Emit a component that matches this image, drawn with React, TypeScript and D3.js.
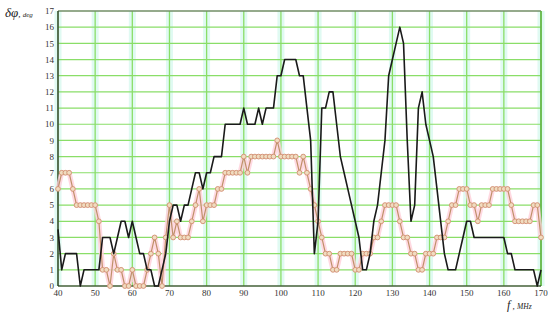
import React from "react";
import * as d3 from "d3";

const freqs: number[] = d3.range(40, 171, 1);

const redValues: number[] = [
  6, 7, 7, 7, 6, 5, 5, 5, 5, 5, // 40-49
  5, 4, 1, 1, 0, 2, 1, 1, 0, 0, // 50-59
  1, 0, 0, 0, 1, 2, 3, 2, 0, 3, // 60-69
  5, 3, 4, 3, 3, 3, 4, 5, 6, 4, // 70-79
  5, 5, 5, 6, 6, 7, 7, 7, 7, 7, // 80-89
  8, 7, 8, 8, 8, 8, 8, 8, 8, 9, // 90-99
  8, 8, 8, 8, 8, 7, 8, 7, 6, 5, // 100-109
  4, 3, 2, 2, 1, 1, 2, 2, 2, 2, // 110-119
  1, 1, 2, 2, 2, 3, 3, 4, 5, 5, // 120-129
  5, 5, 4, 3, 3, 2, 2, 1, 1, 2, // 130-139
  2, 2, 3, 3, 3, 4, 5, 5, 6, 6, // 140-149
  6, 5, 5, 4, 5, 5, 5, 6, 6, 6, // 150-159
  6, 6, 5, 4, 4, 4, 4, 4, 5, 5, // 160-169
  3, // 170
];

const blackValues: number[] = [
  3.5, 1, 2, 2, 2, 2, 0, 1, 1, 1, // 40-49
  1, 1, 3, 3, 3, 2, 3, 4, 4, 3, // 50-59
  4, 3, 2, 2, 1, 1, 0, 0, 1, 2, // 60-69
  4, 5, 5, 4, 5, 5, 6, 7, 7, 6, // 70-79
  7, 7, 8, 8, 8, 10, 10, 10, 10, 10, // 80-89
  11, 10, 10, 10, 11, 10, 11, 11, 11, 13, // 90-99
  13, 14, 14, 14, 14, 13, 13, 11, 9, 2, // 100-109
  4, 11, 11, 12, 12, 10, 8, 7, 6, 5, // 110-119
  4, 3, 1, 1, 2, 4, 5, 7, 9, 13, // 120-129
  14, 15, 16, 15, 9, 4, 5, 11, 12, 10, // 130-139
  9, 8, 6, 4, 2, 1, 1, 1, 2, 3, // 140-149
  4, 4, 3, 3, 3, 3, 3, 3, 3, 3, // 150-159
  3, 2, 2, 1, 1, 1, 1, 1, 1, 0, // 160-169
  1, // 170
];

const xTicks: number[] = [40, 50, 60, 70, 80, 90, 100, 110, 120, 130, 140, 150, 160, 170];
const yTicks: number[] = d3.range(0, 18, 1);

const W = 550;
const H = 319;
const left = 58;
const right = 541;
const top = 11;
const bottom = 286;

export default function App() {
  const x = d3.scaleLinear().domain([40, 170]).range([left, right]);
  const y = d3.scaleLinear().domain([0, 17]).range([bottom, top]);

  const redPts = freqs.map((f, i) => [f, redValues[i]] as [number, number]);
  const blackPts = freqs.map((f, i) => [f, blackValues[i]] as [number, number]);

  const line = d3
    .line<[number, number]>()
    .x((d) => x(d[0]))
    .y((d) => y(d[1]));

  const tickFont = "'Liberation Serif', 'Times New Roman', serif";

  return (
    <svg
      width={W}
      height={H}
      viewBox={`0 0 ${W} ${H}`}
      style={{ position: "absolute", left: 0, top: 0, background: "#ffffff" }}
    >
      <rect x={0} y={0} width={W} height={H} fill="#ffffff" />
      {xTicks.map((t) => (
        <line
          key={"vh" + t}
          x1={x(t)}
          x2={x(t)}
          y1={top}
          y2={bottom}
          stroke="#e0faf2"
          strokeWidth={7}
        />
      ))}
      {yTicks.map((t) => (
        <line
          key={"h" + t}
          x1={left}
          x2={right}
          y1={y(t)}
          y2={y(t)}
          stroke="#8ade68"
          strokeWidth={1.2}
        />
      ))}
      {xTicks.map((t) => (
        <line
          key={"v" + t}
          x1={x(t)}
          x2={x(t)}
          y1={top}
          y2={bottom}
          stroke="#8ade68"
          strokeWidth={1.3}
        />
      ))}
      <line x1={left} x2={right} y1={top} y2={top} stroke="#666" strokeWidth={1.2} />
      <line x1={right} x2={right} y1={top} y2={bottom} stroke="#5cb040" strokeWidth={1.5} />
      <line x1={left} x2={left} y1={top} y2={bottom} stroke="#222" strokeWidth={1.2} />
      <line x1={left} x2={right} y1={bottom} y2={bottom} stroke="#222" strokeWidth={1.2} />

      <path d={line(redPts) || ""} fill="none" stroke="#ffd0da" strokeWidth={5} strokeLinejoin="round" opacity={0.8} />
      <path d={line(redPts) || ""} fill="none" stroke="#c0906a" strokeWidth={1.2} strokeLinejoin="round" />
      {redPts.map((d, i) => (
        <circle
          key={"m" + i}
          cx={x(d[0])}
          cy={y(d[1])}
          r={2.4}
          fill="#f0dcc0"
          stroke="#d09070"
          strokeWidth={0.9}
        />
      ))}

      <path d={line(blackPts) || ""} fill="none" stroke="#1a1a1a" strokeWidth={1.6} strokeLinejoin="round" />

      {yTicks.map((t) => (
        <text
          key={"yl" + t}
          x={left - 4}
          y={y(t)}
          dy="0.35em"
          textAnchor="end"
          fontFamily={tickFont}
          fontSize={9}
          fill="#333"
        >
          {t}
        </text>
      ))}
      {xTicks.map((t) => (
        <text
          key={"xl" + t}
          x={x(t)}
          y={bottom + 9.5}
          textAnchor="middle"
          fontFamily={tickFont}
          fontSize={9}
          fill="#333"
        >
          {t}
        </text>
      ))}

      <text x={5} y={17} fontFamily={tickFont} fontStyle="italic" fill="#222">
        <tspan fontSize={13}>δφ</tspan>
        <tspan fontSize={9}>, </tspan>
        <tspan fontSize={7}>deg</tspan>
      </text>
      <text x={507} y={309} fontFamily={tickFont} fontStyle="italic" fill="#222">
        <tspan fontSize={12}>f</tspan>
        <tspan fontSize={9}> , </tspan>
        <tspan fontSize={7.5}>MHz</tspan>
      </text>
    </svg>
  );
}
